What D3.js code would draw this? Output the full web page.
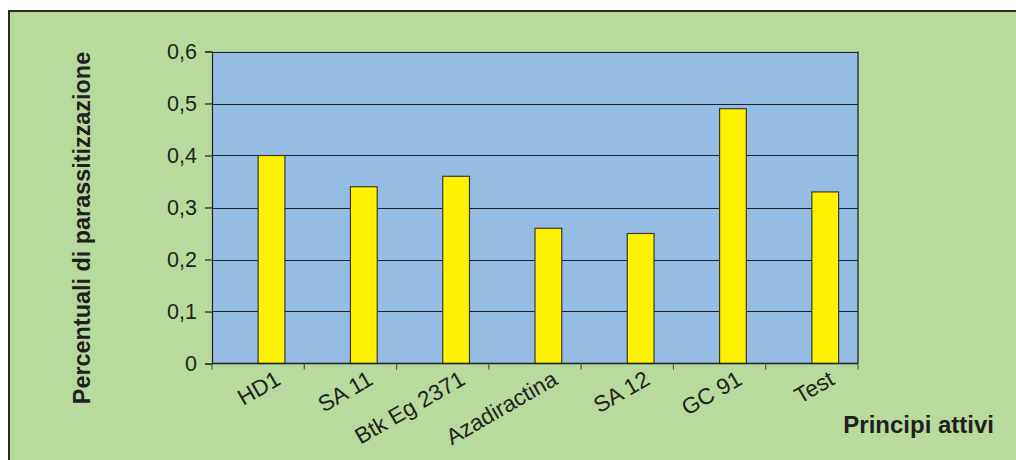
<!DOCTYPE html>
<html><head><meta charset="utf-8">
<script src="https://cdn.jsdelivr.net/npm/d3@7/dist/d3.min.js"></script>
<style>html,body{margin:0;padding:0;background:#fff;}svg{display:block;}text{font-family:"Liberation Sans",Arial,sans-serif;fill:#231F20;}</style>
</head><body>
<script>
const categories = ["HD1","SA 11","Btk Eg 2371","Azadiractina","SA 12","GC 91","Test"];
const values = [0.40,0.34,0.36,0.26,0.25,0.49,0.33];
const yTicks = [0,0.1,0.2,0.3,0.4,0.5,0.6];
const yTickLabels = ["0","0,1","0,2","0,3","0,4","0,5","0,6"];
const yTitle = "Percentuali di parassitizzazione";
const xTitle = "Principi attivi";

const W = 1016, H = 460;
const svg = d3.select("body").append("svg").attr("width", W).attr("height", H);
const ink = "#231F20";

// outer frame
svg.append("rect").attr("x", 9).attr("y", 11).attr("width", 1100).attr("height", 600)
  .attr("fill", "#B8DA9C").attr("stroke", "#2a2a2a").attr("stroke-width", 2);

const plot = {left: 212, right: 858, top: 51.5, bottom: 363.5};
const x = d3.scaleBand().domain(categories).range([plot.left, plot.right]).padding(0);
const y = d3.scaleLinear().domain([0, 0.6]).range([plot.bottom, plot.top]);

// plot area
svg.append("rect").attr("x", plot.left).attr("y", plot.top)
  .attr("width", plot.right - plot.left).attr("height", plot.bottom - plot.top)
  .attr("fill", "#95BDE4");

// gridlines
svg.append("g").selectAll("line").data(yTicks.slice(1)).join("line")
  .attr("x1", plot.left).attr("x2", plot.right)
  .attr("y1", d => Math.round(y(d)) + 0.5).attr("y2", d => Math.round(y(d)) + 0.5)
  .attr("stroke", ink).attr("stroke-width", 1.2);

// right border
svg.append("line").attr("x1", plot.right).attr("x2", plot.right)
  .attr("y1", plot.top).attr("y2", plot.bottom).attr("stroke", "#3a3a3a").attr("stroke-width", 1.5);

// bars
const bw = x.bandwidth() * 0.29;
const bars = svg.append("g").selectAll("g").data(categories).join("g");
bars.append("rect")
  .attr("x", (d) => x(d) + x.bandwidth() / 2)
  .attr("y", (d, i) => y(values[i]))
  .attr("width", bw)
  .attr("height", (d, i) => y(0) - y(values[i]))
  .attr("fill", "#FFF200").attr("stroke", "#3b3a2c").attr("stroke-width", 1.2);

// y axis
const yAxis = d3.axisLeft(y).tickValues(yTicks).tickSize(7).tickPadding(8)
  .tickFormat((d, i) => yTickLabels[i]);
const gy = svg.append("g").attr("transform", `translate(${plot.left},0)`).call(yAxis);
gy.select(".domain").attr("stroke", ink).attr("stroke-width", 1.2);
gy.selectAll(".tick line").attr("stroke", ink).attr("stroke-width", 1.2);
gy.selectAll(".tick text").attr("font-size", 21.5).attr("fill", ink)
  .attr("font-family", '"Liberation Sans",Arial,sans-serif');

// x axis
const gx = svg.append("g").attr("transform", `translate(0,${plot.bottom})`);
gx.append("line").attr("x1", plot.left).attr("x2", plot.right).attr("y1", 0).attr("y2", 0)
  .attr("stroke", ink).attr("stroke-width", 1.5);
const bounds = categories.map(c => x(c)).concat([plot.right]);
gx.selectAll("line.t").data(bounds).join("line").attr("class", "t")
  .attr("x1", d => d).attr("x2", d => d).attr("y1", 0).attr("y2", 6)
  .attr("stroke", "#555").attr("stroke-width", 1.2);
gx.selectAll("text").data(categories).join("text")
  .attr("transform", d => `translate(${x(d) + x.bandwidth() / 2 + 24},${20}) rotate(-30)`)
  .attr("text-anchor", "end").attr("font-size", 22.5).text(d => d);

// titles
svg.append("text").attr("transform", "translate(90,228) rotate(-90)")
  .attr("text-anchor", "middle").attr("font-size", 23.4).attr("font-weight", "bold").text(yTitle);
svg.append("text").attr("x", 994).attr("y", 433).attr("text-anchor", "end")
  .attr("font-size", 24).attr("font-weight", "bold").text(xTitle);
</script>
</body></html>
